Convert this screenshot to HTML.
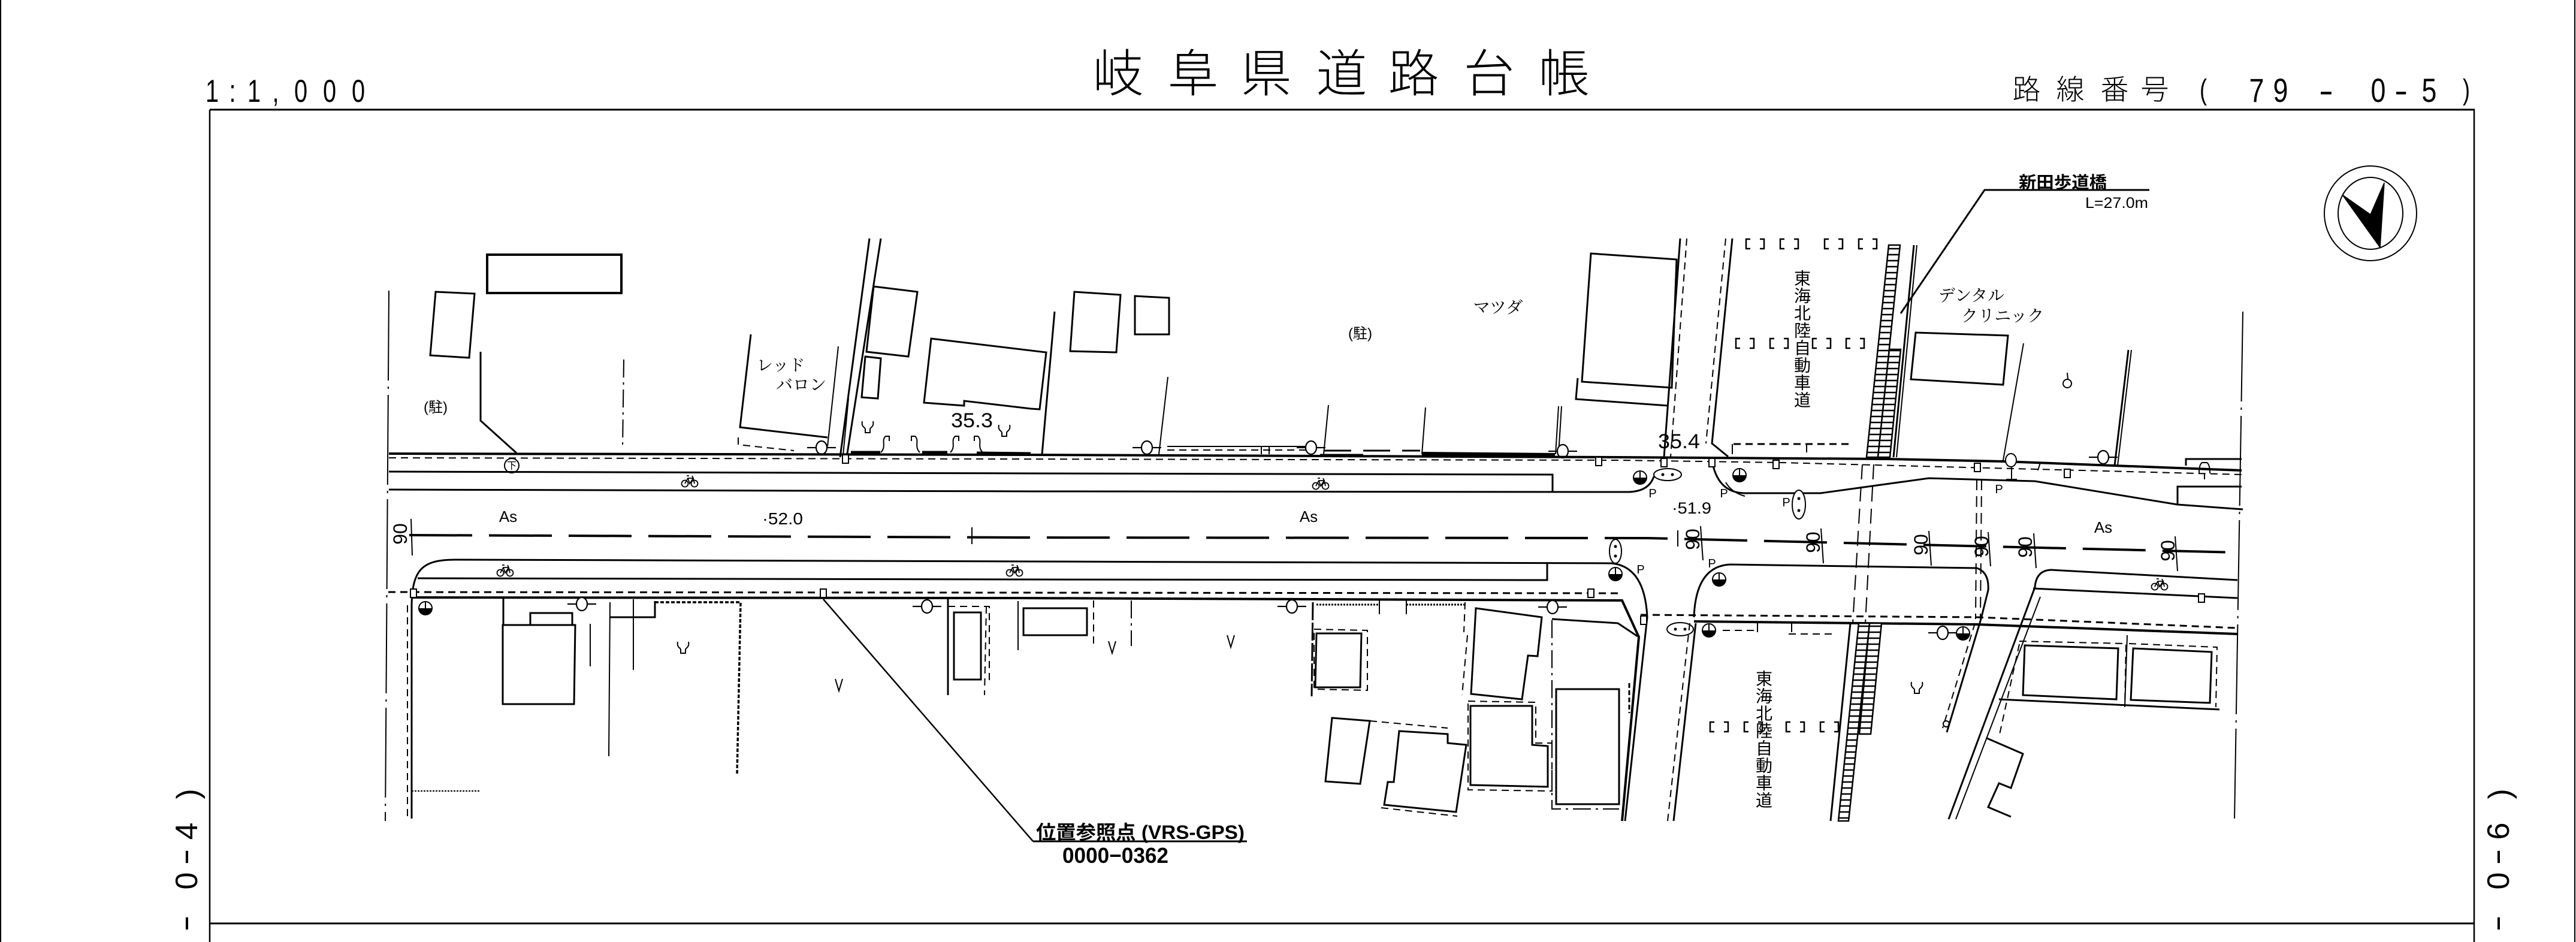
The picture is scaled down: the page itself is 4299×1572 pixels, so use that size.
<!DOCTYPE html>
<html><head><meta charset="utf-8">
<style>
html,body{margin:0;padding:0;background:#fff;overflow:hidden}
svg{display:block}
text{font-family:"Liberation Sans","Noto Sans CJK JP",sans-serif;fill:#000}
.j{font-family:"Liberation Sans","Noto Sans CJK JP",sans-serif}
.sf{font-family:"Liberation Serif","Noto Serif CJK SC","Noto Sans CJK JP",serif}
.s{stroke:#000;fill:none;stroke-width:2}
.m{stroke-width:3}
.k{stroke-width:4}
.ds{stroke-dasharray:12 8}
.dd{stroke-dasharray:150 10 4 10}
.d2{stroke-dasharray:30 8 4 8}
.dl{stroke-dasharray:25 12}
</style></head><body>
<svg width="4299" height="1572" viewBox="0 0 4299 1572" xmlns="http://www.w3.org/2000/svg">
<defs>
<pattern id="lad" patternUnits="userSpaceOnUse" width="20" height="10"><rect width="20" height="10" fill="#fff"/><line x1="0" y1="5" x2="20" y2="5" stroke="#000" stroke-width="2.5"/></pattern>
<g id="bk" stroke="#000" fill="none" stroke-width="1.8"><circle cx="-8" cy="4" r="5.5"/><circle cx="8" cy="4" r="5.5"/><path d="M-8,4 L-3,-5 L6,-5 L8,4 M-3,-5 L0,4 L6,-5 M-5,-9 H-1 M4,-9 L6,-5"/></g>
<g id="hc"><circle r="11" fill="#fff" stroke="#000" stroke-width="2"/><path d="M-11,0 A11,11 0 0 0 11,0 Z" fill="#000"/><line x1="0" y1="-11" x2="0" y2="0" stroke="#000" stroke-width="2"/></g>
<g id="sl" stroke="#000" stroke-width="2.2" fill="#fff"><ellipse rx="9" ry="11"/><line x1="-24" y1="0" x2="-9" y2="0"/><line x1="9" y1="0" x2="24" y2="0"/></g>
<g id="tr" stroke="#000" stroke-width="2" fill="none"><path d="M-9,-9 C-11,1 -4,1 -4,4 L-4,10 L4,10 L4,4 C4,1 11,1 9,-9"/></g>
<g id="vv" stroke="#000" stroke-width="2" fill="none"><path d="M-6,-10 L0,10 L6,-10"/></g>
<g id="br" stroke="#000" stroke-width="2.5" fill="none"><path d="M7,-8 H0 V8 H7 M23,-8 H30 V8 H23"/></g>
<g id="bx" stroke="#000" stroke-width="2" fill="#fff"><rect x="-5" y="-7" width="10" height="14"/></g>
</defs>

<!-- page edges -->
<line class="s" x1="1" y1="0" x2="1" y2="1572"/>
<line class="s" x1="4297" y1="0" x2="4297" y2="1572"/>
<!-- frame -->
<line class="s m" x1="350" y1="183" x2="4130" y2="183"/>
<line class="s" style="stroke-width:2.5" x1="350" y1="183" x2="350" y2="1572"/>
<line class="s" style="stroke-width:2.5" x1="4129" y1="183" x2="4129" y2="1572"/>
<line class="s m" x1="350" y1="1541" x2="4129" y2="1541"/>

<!-- header texts -->
<g font-size="53">
<text transform="translate(354,170) scale(0.75,1)" text-anchor="middle">1</text>
<text transform="translate(388,170) scale(0.75,1)" text-anchor="middle">:</text>
<text transform="translate(424,170) scale(0.75,1)" text-anchor="middle">1</text>
<text transform="translate(460,170) scale(0.75,1)" text-anchor="middle">,</text>
<text transform="translate(502,170) scale(0.75,1)" text-anchor="middle">0</text>
<text transform="translate(550,170) scale(0.75,1)" text-anchor="middle">0</text>
<text transform="translate(598,170) scale(0.75,1)" text-anchor="middle">0</text>
</g>
<g font-size="85" text-anchor="middle" style="font-weight:300">
<text x="1866" y="153">岐</text><text x="1991" y="153">阜</text><text x="2113" y="153">県</text><text x="2239" y="153">道</text><text x="2359" y="153">路</text><text x="2485" y="153">台</text><text x="2610" y="153">帳</text>
</g>
<g font-size="47" text-anchor="middle" style="font-weight:300">
<text x="3382" y="166">路</text><text x="3455" y="166">線</text><text x="3529" y="166">番</text><text x="3596" y="166">号</text>
</g>
<g font-size="56">
<text transform="translate(3677,166) scale(0.75,1)" text-anchor="middle" font-size="48">(</text>
<text transform="translate(3766,170) scale(0.8,1)" text-anchor="middle">7</text>
<text transform="translate(3806,170) scale(0.8,1)" text-anchor="middle">9</text>
<text transform="translate(3882,170) scale(1.3,1)" text-anchor="middle">-</text>
<text transform="translate(3969,170) scale(0.8,1)" text-anchor="middle">0</text>
<text transform="translate(4007,170) scale(1.2,1)" text-anchor="middle">-</text>
<text transform="translate(4054,170) scale(0.8,1)" text-anchor="middle">5</text>
<text transform="translate(4116,166) scale(0.75,1)" text-anchor="middle" font-size="48">)</text>
</g>

<!-- side labels -->
<g font-size="52" text-anchor="middle">
<text transform="translate(331,1325) rotate(-90)">)</text>
<text transform="translate(329,1387) rotate(-90)">4</text>
<text transform="translate(326,1430) rotate(-90) scale(1.6,1)">-</text>
<text transform="translate(329,1470) rotate(-90)">0</text>
<text transform="translate(326,1541) rotate(-90) scale(1.6,1)">-</text>
<text transform="translate(4189,1325) rotate(-90)">)</text>
<text transform="translate(4187,1387) rotate(-90)">6</text>
<text transform="translate(4184,1430) rotate(-90) scale(1.6,1)">-</text>
<text transform="translate(4187,1470) rotate(-90)">0</text>
<text transform="translate(4184,1541) rotate(-90) scale(1.6,1)">-</text>
</g>

<!-- north arrow -->
<ellipse class="s" cx="3956" cy="356" rx="77" ry="79"/>
<ellipse class="s" cx="3956" cy="356" rx="54" ry="60"/>
<polygon points="3909,325 3956,358 3979,305 3972,413" fill="#000" stroke="#000" stroke-width="1.5"/>

<!-- bridge label -->
<text x="3369" y="314" font-size="28" font-weight="bold" textLength="147" lengthAdjust="spacingAndGlyphs">新田歩道橋</text>
<polyline class="s m" points="3587,317 3312,317 3172,523"/>
<text x="3480" y="347" font-size="25" textLength="105" lengthAdjust="spacingAndGlyphs">L=27.0m</text>

<!-- map edges -->
<line class="s dd" x1="649" y1="485" x2="643" y2="1370"/>
<line class="s dd" x1="3743" y1="520" x2="3729" y2="1370"/>
<line class="s ds" x1="680" y1="1010" x2="680" y2="1370"/>
<line class="s" x1="687" y1="1320" x2="802" y2="1320" style="stroke-dasharray:3 2"/>

<!-- NORTH WEST -->
<rect class="s k" x="813" y="425" width="224" height="64"/>
<polygon class="s m" points="727,487 792,490 783,597 718,593"/>
<polyline class="s m" points="802,587 802,702 862,756"/>
<line class="s d2" x1="1041" y1="600" x2="1039" y2="748"/>
<text x="727" y="680" font-size="24" text-anchor="middle" dominant-baseline="central">(駐)</text>

<polyline class="s m" points="1253,558 1235,713 1381,730"/>
<line class="s" x1="1399" y1="578" x2="1381" y2="745"/>
<polyline class="s ds" points="1232,730 1232,742 1325,752"/>
<text class="sf" x="1303" y="610" font-size="27" text-anchor="middle" dominant-baseline="central">レッド</text>
<text class="sf" x="1337" y="643" font-size="28" text-anchor="middle" dominant-baseline="central">バロン</text>
<line class="s m" x1="1451" y1="398" x2="1402" y2="763"/>
<line class="s m" x1="1470" y1="398" x2="1413" y2="763"/>
<line class="s" x1="1416" y1="665" x2="1406" y2="770"/>
<polygon class="s m" points="1458,478 1531,487 1516,595 1446,587"/>
<polygon class="s m" points="1444,595 1470,598 1465,665 1438,663"/>
<polygon class="s m" points="1554,565 1746,588 1735,683 1720,682 1609,669 1609,677 1542,672"/>
<text x="1587" y="713" font-size="34" textLength="70" lengthAdjust="spacingAndGlyphs">35.3</text>
<use href="#tr" x="1448" y="712"/>
<use href="#tr" x="1676" y="718"/>
<g class="s" stroke-width="2">
<path d="M1470,755 C1480,745 1470,735 1478,728 H1484 V736"/>
<path d="M1535,755 C1525,745 1535,735 1527,728 H1521 V736"/>
<path d="M1586,755 C1596,745 1586,735 1594,728 H1600 V736"/>
<path d="M1640,755 C1630,745 1640,735 1632,728 H1626 V736"/>
</g>
<line x1="1420" y1="755" x2="1469" y2="755" stroke="#000" stroke-width="5"/>
<line x1="1539" y1="755" x2="1581" y2="755" stroke="#000" stroke-width="5"/>
<line x1="1630" y1="756" x2="1720" y2="757" stroke="#000" stroke-width="5"/>
<use href="#sl" x="1371" y="747"/>

<!-- NORTH MIDDLE -->
<line class="s m" x1="1760" y1="520" x2="1739" y2="758"/>
<polygon class="s m" points="1793,487 1870,492 1863,588 1786,586"/>
<polygon class="s m" points="1894,494 1951,497 1951,558 1894,558"/>
<text x="2270" y="557" font-size="24" text-anchor="middle" dominant-baseline="central">(駐)</text>
<text class="sf" x="2500" y="514" font-size="28" text-anchor="middle" dominant-baseline="central">マツダ</text>
<line class="s" x1="1949" y1="629" x2="1934" y2="758"/>
<line class="s" x1="2217" y1="676" x2="2209" y2="758"/>
<line class="s" x1="2379" y1="680" x2="2373" y2="758"/>
<line class="s" x1="2601" y1="678" x2="2596" y2="758"/>
<line class="s" x1="2606" y1="678" x2="2601" y2="758"/>
<polygon class="s m" points="2655,423 2798,433 2790,647 2640,637"/>
<polyline class="s m" points="2633,631 2630,666 2784,677"/>
<line class="s" x1="1948" y1="745" x2="2188" y2="745"/>
<line class="s ds" x1="1948" y1="751" x2="2188" y2="751"/>
<line class="s" x1="2105" y1="745" x2="2105" y2="758"/>
<line class="s" x1="2118" y1="745" x2="2118" y2="758"/>
<line x1="2203" y1="760" x2="2275" y2="760" stroke="#000" stroke-width="5"/>
<line class="s m" x1="2210" y1="752" x2="2370" y2="752" style="stroke-dasharray:45 20"/>
<line x1="2373" y1="757" x2="2595" y2="759" stroke="#000" stroke-width="6"/>
<use href="#sl" x="1914" y="747"/>
<use href="#sl" x="2188" y="747"/>
<use href="#sl" x="2608" y="753"/>

<!-- NORTH ROAD LINES -->
<polyline class="s k" points="649,757 1720,759 2700,763 3152,766 3343,770 3741,785"/>
<polyline class="s ds" points="649,764 2700,768 2974,772 3743,792"/>
<polyline class="s m" points="649,787 1720,790 2591,792 2591,821"/>
<path class="s m" d="M649,817 L1720,820 L2718,821 Q2752,820 2760,795"/>
<use href="#bk" x="1151" y="803"/>
<use href="#bk" x="2204" y="807"/>
<circle class="s" cx="854" cy="777" r="12"/>
<text x="854" y="778" font-size="16" text-anchor="middle" dominant-baseline="central">下</text>
<use href="#bx" x="1411" y="766"/>
<use href="#bx" x="2668" y="770"/>

<!-- NORTH EAST -->
<line class="s m" x1="2804" y1="398" x2="2777" y2="763"/>
<line class="s ds" x1="2815" y1="398" x2="2788" y2="763"/>
<polyline class="s m" points="2891,398 2857,740 2884,762"/>
<line class="s ds" x1="2880" y1="398" x2="2847" y2="740"/>
<path class="s m" d="M2857,768 Q2866,822 2911,823 L3038,823 L3219,798 L3396,803 L3634,842 L3743,850"/>
<polyline class="s m" points="3634,842 3634,812 3741,812"/>
<polyline class="s m" points="3648,777 3648,766 3741,766"/>
<line class="s ds m" x1="2893" y1="741" x2="3091" y2="741"/>
<line class="s" x1="2891" y1="741" x2="2891" y2="758"/>
<line class="s" x1="3015" y1="742" x2="3015" y2="755"/>
<text x="2767" y="748" font-size="34" textLength="70" lengthAdjust="spacingAndGlyphs">35.4</text>
<use href="#bx" x="2777" y="772"/>
<use href="#bx" x="2857" y="772"/>
<use href="#bx" x="2964" y="775"/>
<use href="#bx" x="3300" y="780"/>
<use href="#bx" x="3450" y="790"/>
<use href="#br" x="2914" y="407"/><use href="#br" x="2971" y="407"/><use href="#br" x="3045" y="407"/><use href="#br" x="3102" y="407"/>
<use href="#br" x="2897" y="573"/><use href="#br" x="2954" y="573"/><use href="#br" x="3025" y="573"/><use href="#br" x="3081" y="573"/>
<g class="sf" font-size="28" text-anchor="middle" dominant-baseline="central">
<text x="3008" y="465">東</text><text x="3008" y="494">海</text><text x="3008" y="523">北</text><text x="3008" y="552">陸</text><text x="3008" y="581">自</text><text x="3008" y="610">動</text><text x="3008" y="639">車</text><text x="3008" y="668">道</text>
</g>
<polygon points="3152,409 3171,409 3134,763 3115,763" fill="url(#lad)" stroke="#000" stroke-width="2.5"/>
<polygon points="3153,583 3172,583 3154,763 3134,763" fill="url(#lad)" stroke="#000" stroke-width="2.5"/>
<line class="s m" x1="3194" y1="409" x2="3160" y2="763"/>
<line class="s" x1="3199" y1="409" x2="3165" y2="763"/>
<text class="sf" x="3290" y="494" font-size="28" text-anchor="middle" dominant-baseline="central">デンタル</text>
<text class="sf" x="3342" y="528" font-size="28" text-anchor="middle" dominant-baseline="central">クリニック</text>
<polygon class="s m" points="3197,555 3351,560 3343,642 3189,633"/>
<line class="s" x1="3377" y1="573" x2="3343" y2="768"/>
<circle class="s" cx="3450" cy="640" r="7"/>
<line class="s" x1="3450" y1="622" x2="3451" y2="633"/>
<line class="s m" x1="3552" y1="584" x2="3529" y2="777"/>
<line class="s" x1="3557" y1="584" x2="3534" y2="777"/>
<use href="#sl" x="3510" y="763"/>
<g class="s"><ellipse cx="3356" cy="768" rx="9" ry="11" fill="#fff"/><line x1="3357" y1="779" x2="3357" y2="800"/><line x1="3348" y1="800" x2="3366" y2="800"/></g>
<line class="s" x1="3401" y1="785" x2="3405" y2="772"/>
<path class="s" d="M3670,790 Q3670,775 3675,772 H3683 Q3688,775 3688,790 M3679,790 V800"/>

<!-- CENTER -->
<polyline class="s" style="stroke-width:4;stroke-dasharray:105 28" points="683,893 1700,897 2750,898 3734,922"/>
<line class="s" x1="1622" y1="880" x2="1622" y2="908"/>
<line class="s" x1="2800" y1="885" x2="2800" y2="912"/>
<text x="848" y="871" font-size="26" text-anchor="middle">As</text>
<text x="2184" y="871" font-size="26" text-anchor="middle">As</text>
<text x="3510" y="889" font-size="26" text-anchor="middle">As</text>
<text x="1272" y="875" font-size="28" textLength="68" lengthAdjust="spacingAndGlyphs">·52.0</text>
<text x="2790" y="857" font-size="27" textLength="66" lengthAdjust="spacingAndGlyphs">·51.9</text>
<g font-size="32" text-anchor="middle">
<text transform="translate(679,891) rotate(-90)">90</text>
<text transform="translate(2836,900) rotate(-90)">90</text>
<text transform="translate(3037,905) rotate(-90)">90</text>
<text transform="translate(3217,909) rotate(-90)">90</text>
<text transform="translate(3318,912) rotate(-90)">90</text>
<text transform="translate(3391,913) rotate(-90)">90</text>
<text transform="translate(3629,919) rotate(-90)">90</text>
</g>
<g class="s">
<line x1="686" y1="866" x2="688" y2="927"/>
<line x1="2838" y1="878" x2="2842" y2="935"/>
<line x1="3039" y1="882" x2="3043" y2="940"/>
<line x1="3219" y1="886" x2="3223" y2="944"/>
<line x1="3318" y1="888" x2="3322" y2="945"/>
<line x1="3394" y1="890" x2="3398" y2="948"/>
<line x1="3630" y1="895" x2="3634" y2="953"/>
</g>
<!-- overpass dashed lines -->
<line class="s dl" x1="3108" y1="775" x2="3092" y2="1040"/>
<line class="s dl" x1="3127" y1="775" x2="3113" y2="1040"/>
<line class="s" style="stroke-dasharray:18 10" x1="3299" y1="800" x2="3297" y2="1033"/>
<line class="s" style="stroke-dasharray:18 10" x1="3307" y1="800" x2="3305" y2="1033"/>

<!-- intersection symbols -->
<g class="s"><ellipse cx="2783" cy="792" rx="23" ry="10" fill="#fff"/><ellipse cx="3002" cy="842" rx="11" ry="24" fill="#fff"/><ellipse cx="2696" cy="920" rx="10" ry="20" fill="#fff"/><ellipse cx="2804" cy="1050" rx="22" ry="11" fill="#fff"/></g>
<g fill="#000"><circle cx="2775" cy="792" r="2.5"/><circle cx="2791" cy="792" r="2.5"/><circle cx="3002" cy="832" r="2.5"/><circle cx="3002" cy="852" r="2.5"/><circle cx="2696" cy="912" r="2.5"/><circle cx="2696" cy="928" r="2.5"/><circle cx="2796" cy="1050" r="2.5"/><circle cx="2812" cy="1050" r="2.5"/></g>
<use href="#hc" x="2737" y="797"/>
<use href="#hc" x="2903" y="793"/>
<use href="#hc" x="2696" y="958"/>
<use href="#hc" x="2869" y="967"/>
<use href="#hc" x="2852" y="1052"/>
<use href="#hc" x="3276" y="1057"/>
<use href="#hc" x="710" y="1015"/>
<g font-size="20" text-anchor="middle">
<text x="2758" y="830">P</text><text x="2877" y="830">P</text><text x="2981" y="845">P</text><text x="3336" y="823">P</text><text x="2738" y="957">P</text><text x="2857" y="947">P</text>
</g>
<path class="s" d="M2880,805 Q2890,822 2912,828"/>

<!-- SOUTH ROAD LINES -->
<path class="s m" d="M687,1366 L687,1010 C688,950 705,934 760,934 L1720,937 L2689,940 Q2745,945 2749,1030 L2712,1370"/>
<polyline class="s m" points="697,965 1720,967 2582,968 2582,940"/>
<polyline class="s ds m" points="648,988 2703,990"/>
<polyline class="s k" points="687,997 1700,998 2707,1002 2735,1063 2707,1370"/>
<use href="#bk" x="843" y="952"/>
<use href="#bk" x="1693" y="952"/>
<use href="#bx" x="690" y="990"/>
<use href="#bx" x="1374" y="990"/>
<use href="#bx" x="2655" y="990"/>
<use href="#bx" x="2743" y="1035"/>

<!-- SOUTH WEST -->
<line class="s m" x1="840" y1="997" x2="840" y2="1043"/>
<polygon class="s m" points="839,1043 960,1043 958,1175 839,1175"/>
<rect class="s m" x="885" y="1023" width="70" height="20"/>
<use href="#sl" x="971" y="1008"/>
<line class="s" x1="985" y1="1041" x2="985" y2="1112"/>
<line class="s" x1="1018" y1="1005" x2="1016" y2="1262"/>
<line class="s" x1="1057" y1="1000" x2="1057" y2="1118"/>
<polyline class="s m" points="1018,1030 1093,1030 1093,1003"/>
<polyline class="s" style="stroke-width:3.5;stroke-dasharray:6 3" points="1093,1005 1236,1005 1230,1293"/>
<use href="#tr" x="1140" y="1080"/>
<use href="#vv" x="1400" y="1143"/>
<use href="#sl" x="1547" y="1012"/>
<rect class="s m" x="1592" y="1022" width="45" height="112"/>
<polyline class="s ds" points="1582,1012 1651,1012 1651,1137"/>
<line class="s m" x1="1582" y1="1000" x2="1582" y2="1160"/>
<line class="s ds" x1="1646" y1="1012" x2="1643" y2="1160"/>
<!-- reference leader -->
<polyline class="s" style="stroke-width:2.5" points="1374,1000 1724,1404"/>
<line class="s m" x1="1724" y1="1404" x2="2081" y2="1404"/>
<text x="1729" y="1400" font-size="32" font-weight="bold" textLength="348" lengthAdjust="spacingAndGlyphs">位置参照点 (VRS-GPS)</text>
<text x="1773" y="1440" font-size="36" font-weight="bold" textLength="177" lengthAdjust="spacingAndGlyphs">0000−0362</text>

<!-- SOUTH MIDDLE -->
<rect class="s m" x="1708" y="1015" width="106" height="45"/>
<line class="s" x1="1699" y1="1003" x2="1699" y2="1085"/>
<line class="s ds" x1="1825" y1="1002" x2="1825" y2="1075"/>
<line class="s d2" x1="1888" y1="1002" x2="1888" y2="1078"/>
<use href="#vv" x="1856" y="1080"/>
<use href="#vv" x="2054" y="1070"/>
<use href="#sl" x="2156" y="1012"/>
<line class="s m" x1="2191" y1="1005" x2="2189" y2="1162" style="stroke-dasharray:30 4"/>
<polygon class="s m" points="2197,1057 2272,1057 2270,1147 2195,1147"/>
<polygon class="s ds" points="2193,1050 2282,1052 2282,1152 2193,1150"/>
<line class="s" x1="2302" y1="1002" x2="2302" y2="1025"/>
<line class="s" x1="2347" y1="1002" x2="2347" y2="1025"/>
<line class="s" style="stroke-width:3;stroke-dasharray:3 2" x1="2197" y1="1009" x2="2302" y2="1009"/>
<line class="s" style="stroke-width:3;stroke-dasharray:3 2" x1="2347" y1="1009" x2="2445" y2="1009"/>
<line class="s ds" x1="2445" y1="1005" x2="2443" y2="1055"/>
<polygon class="s m" points="2463,1015 2573,1030 2566,1095 2550,1094 2540,1167 2455,1158"/>
<line class="s ds" x1="2449" y1="1060" x2="2440" y2="1160"/>
<polygon class="s m" points="2454,1178 2557,1178 2557,1243 2583,1245 2583,1313 2454,1310"/>
<polyline class="s ds" points="2450,1170 2563,1172 2563,1240 2590,1240 2590,1320 2450,1318 2450,1170"/>
<rect class="s m" x="2597" y="1150" width="105" height="192"/>
<polyline class="s d2" points="2590,1035 2590,1350 2702,1350"/>
<polyline class="s m" points="2590,1033 2700,1040 2733,1062"/>
<polygon class="s m" points="2223,1198 2286,1203 2270,1308 2212,1304"/>
<line class="s ds" x1="2286" y1="1203" x2="2416" y2="1215"/>
<polygon class="s m" points="2335,1220 2416,1225 2416,1240 2447,1243 2430,1355 2310,1343 2316,1305 2326,1305"/>
<polyline class="s ds" points="2305,1348 2432,1362"/>
<use href="#sl" x="2591" y="1013"/>
<line class="s" x1="2719" y1="1140" x2="2719" y2="1190" style="stroke-width:3;stroke-dasharray:8 4"/>

<!-- SOUTH EAST -->
<line class="s m" x1="2830" y1="1040" x2="2793" y2="1370"/>
<line class="s ds" x1="2820" y1="1040" x2="2783" y2="1370"/>
<path class="s m" d="M2827,1030 Q2830,945 2887,942 L3299,948 Q3320,955 3318,985 L3306,1033 L3249,1222"/>
<line class="s ds" x1="3296" y1="1040" x2="3242" y2="1215"/>
<polyline class="s k" points="2827,1037 3299,1042 3734,1058"/>
<polyline class="s ds m" points="2738,1026 3299,1030 3734,1048"/>
<path class="s m" d="M3734,968 L3423,951 Q3398,952 3396,980 L3252,1367"/>
<line class="s" x1="3405" y1="996" x2="3264" y2="1367"/>
<line class="s m" x1="3734" y1="998" x2="3393" y2="982"/>
<use href="#bk" x="3604" y="975"/>
<use href="#bx" x="3674" y="998"/>
<polygon points="3102,1040 3120,1040 3085,1370 3068,1370" fill="url(#lad)" stroke="#000" stroke-width="2.5"/>
<polygon points="3120,1040 3140,1040 3122,1225 3103,1225" fill="url(#lad)" stroke="#000" stroke-width="2.5"/>
<line class="s m" x1="3088" y1="1040" x2="3055" y2="1370"/>
<use href="#br" x="2854" y="1213"/><use href="#br" x="2911" y="1213"/><use href="#br" x="2981" y="1213"/><use href="#br" x="3038" y="1213"/>
<g class="sf" font-size="28" text-anchor="middle" dominant-baseline="central">
<text x="2944" y="1133">東</text><text x="2944" y="1162">海</text><text x="2944" y="1191">北</text><text x="2944" y="1220">陸</text><text x="2944" y="1249">自</text><text x="2944" y="1278">動</text><text x="2944" y="1307">車</text><text x="2944" y="1336">道</text>
</g>
<use href="#sl" x="3242" y="1056"/>
<use href="#tr" x="3199" y="1147"/>
<circle class="s" cx="3248" cy="1208" r="5"/>
<polyline class="s ds" points="2875,1052 2930,1052"/>
<polyline class="s ds" points="2985,1058 3060,1058"/>
<line class="s" x1="2933" y1="1040" x2="2933" y2="1055"/>
<line class="s" x1="2990" y1="1040" x2="2990" y2="1055"/>
<polygon class="s m" points="3379,1077 3535,1082 3532,1167 3376,1160"/>
<polygon class="s m" points="3560,1082 3691,1088 3688,1173 3556,1168"/>
<polyline class="s ds" points="3370,1070 3548,1074 3546,1177"/>
<polyline class="s ds" points="3553,1074 3700,1080 3698,1180"/>
<line class="s" x1="3550" y1="1060" x2="3546" y2="1180"/>
<line class="s m" x1="3336" y1="1167" x2="3704" y2="1184"/>
<line class="s ds" x1="3370" y1="1075" x2="3336" y2="1230"/>
<polyline class="s m" points="3316,1232 3376,1258 3356,1315 3336,1307 3318,1347 3356,1363"/>
</svg>
</body></html>
